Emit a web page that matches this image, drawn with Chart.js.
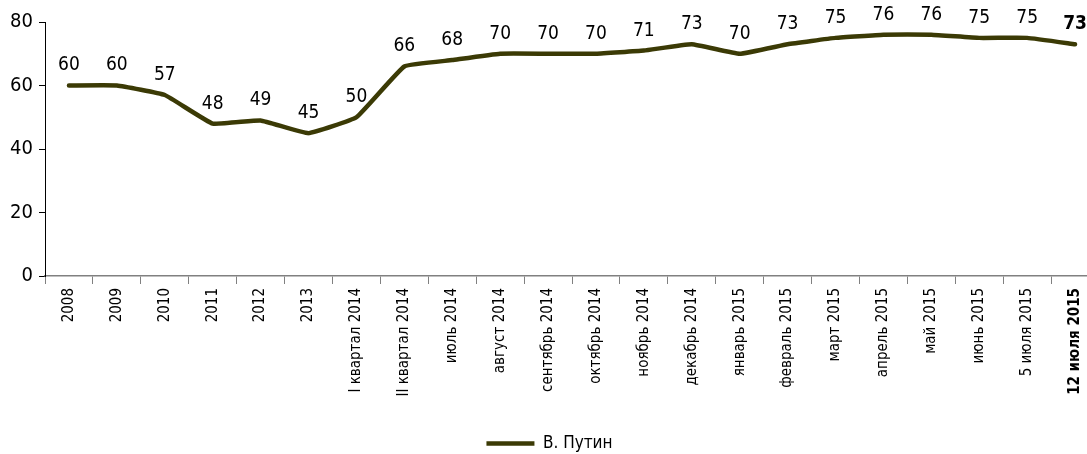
<!DOCTYPE html>
<html><head><meta charset="utf-8">
<script src="https://cdn.jsdelivr.net/npm/chart.js@4/dist/chart.umd.min.js"></script>
<style>html,body{margin:0;padding:0;overflow:hidden;background:#fff}#wrap{width:1100px;height:454px}</style>
</head><body><div id="wrap"><canvas id="c" width="1100" height="454"></canvas></div>
<script>
const categories = ["2008","2009","2010","2011","2012","2013","I квартал 2014","II квартал 2014","июль 2014","август 2014","сентябрь 2014","октябрь 2014","ноябрь 2014","декабрь 2014","январь 2015","февраль 2015","март 2015","апрель 2015","май 2015","июнь 2015","5 июля 2015","12 июля 2015"];
const putin = [60,60,57,48,49,45,50,66,68,70,70,70,71,73,70,73,75,76,76,75,75,73];
const yTicks = [0,20,40,60,80];
const seriesName = "В. Путин";
const FONT = "'Liberation Sans Narrow','DejaVu Sans Condensed',sans-serif";
const lineColor = "#3b3a05";

const labelPlugin = {
  id:'vals',
  afterLayout(chart){
    if (chart.legend) { chart.legend.top += 8; chart.legend.bottom += 8; }
  },
  afterDatasetsDraw(chart){
    const ctx = chart.ctx, meta = chart.getDatasetMeta(0);
    ctx.save();
    ctx.fillStyle = '#000';
    ctx.textAlign = 'center';
    ctx.textBaseline = 'middle';
    meta.data.forEach((p,i)=>{
      const last = i === putin.length-1;
      ctx.font = (last?'bold ':'') + '19px ' + FONT;
      ctx.fillText(String(putin[i]), p.x, p.y - 20);
    });
    ctx.restore();
  }
};

new Chart(document.getElementById('c'), {
  type:'line',
  data:{labels:categories, datasets:[{label:seriesName, data:putin, borderColor:lineColor, backgroundColor:lineColor, borderWidth:4.5, tension:0.1, pointRadius:0, fill:false, borderCapStyle:'round', borderJoinStyle:'round'}]},
  options:{
    responsive:false, animation:false, devicePixelRatio:1,
    layout:{padding:{top:22,left:0,right:1,bottom:0}},
    plugins:{
      legend:{position:'bottom', labels:{usePointStyle:true, pointStyle:'line', pointStyleWidth:48, boxHeight:4, color:'#000', font:{family:FONT,size:17}, padding:4}},
      tooltip:{enabled:false}
    },
    scales:{
      x:{
        offset:true,
        grid:{display:true, offset:true, drawOnChartArea:false, drawTicks:true, tickLength:8, color:'#808080', lineWidth:1},
        border:{display:true, color:'#808080', width:1.5},
        ticks:{color:'#000', maxRotation:90, minRotation:90, autoSkip:false, padding:4,
          font:(c)=>({family:FONT, size:15, weight: c.index===categories.length-1 ? 'bold':'normal'})},
        afterFit(s){ s.height = 147; }
      },
      y:{
        min:0, max:80,
        afterBuildTicks(s){ s.ticks = yTicks.map(v=>({value:v})); },
        grid:{display:true, drawOnChartArea:false, drawTicks:true, tickLength:6, color:'#000'},
        border:{display:true, color:'#000', width:1},
        ticks:{color:'#000', padding:6, font:{family:FONT,size:20}},
        afterFit(s){ s.width = 45; }
      }
    }
  },
  plugins:[labelPlugin]
});
</script>
</body></html>
